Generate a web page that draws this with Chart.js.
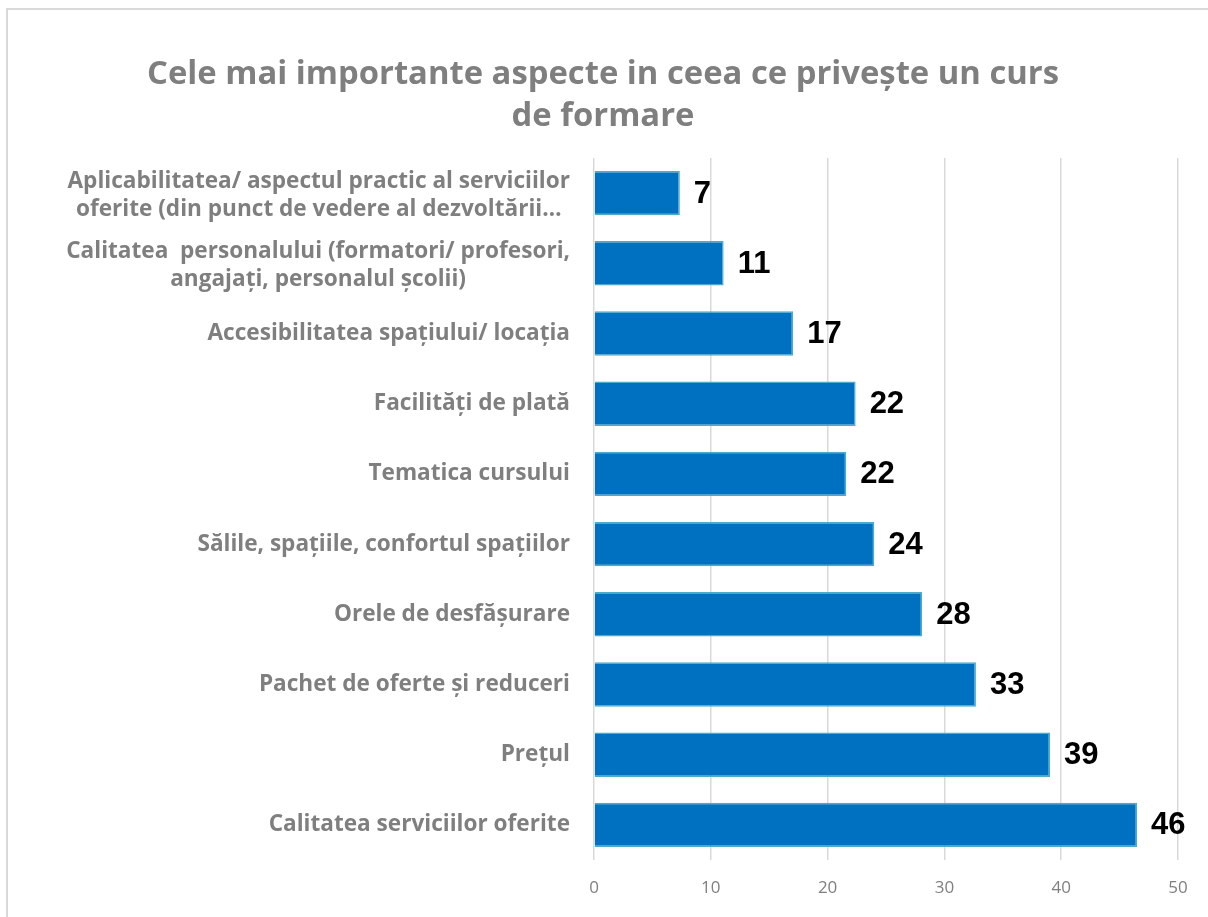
<!DOCTYPE html>
<html>
<head>
<meta charset="utf-8">
<script src="https://cdn.jsdelivr.net/npm/chart.js@4/dist/chart.umd.min.js"></script>
<style>
  html, body { margin: 0; padding: 0; background: #fff; overflow: hidden; font-family: "Open Sans"; }
  #frame { position: absolute; left: 6px; top: 8px; width: 1230px; height: 940px; border: 2px solid #d9d9d9; box-sizing: border-box; }
  #c { position: absolute; left: 0; top: 0; }
</style>
</head>
<body>
<div id="frame"></div>
<canvas id="c" width="1208" height="917"></canvas>
<script>
const titleLines = ['Cele mai importante aspecte in ceea ce privește un curs', 'de formare'];
const categories = [
  ['Aplicabilitatea/ aspectul practic al serviciilor', 'oferite (din punct de vedere al dezvoltării…'],
  ['Calitatea  personalului (formatori/ profesori,', 'angajați, personalul școlii)'],
  ['Accesibilitatea spațiului/ locația'],
  ['Facilități de plată'],
  ['Tematica cursului'],
  ['Sălile, spațiile, confortul spațiilor'],
  ['Orele de desfășurare'],
  ['Pachet de oferte și reduceri'],
  ['Prețul'],
  ['Calitatea serviciilor oferite']
];
const values = [7.35, 11.1, 17.05, 22.4, 21.6, 24.0, 28.1, 32.7, 39.05, 46.5];
const valueLabels = ['7', '11', '17', '22', '22', '24', '28', '33', '39', '46'];
const xTicks = [0, 10, 20, 30, 40, 50];

const GRAY = '#7f7f7f';

const categoryLabelPlugin = {
  id: 'categoryLabels',
  afterDraw(chart) {
    const ctx = chart.ctx;
    const yScale = chart.scales.y;
    const rightEdge = chart.chartArea.left - 24;
    const lh = 28;
    ctx.save();
    ctx.font = 'bold 22.6px "Open Sans"';
    ctx.fillStyle = GRAY;
    ctx.textBaseline = 'middle';
    ctx.textAlign = 'center';
    categories.forEach((lines, i) => {
      const yc = yScale.getPixelForValue(i) + (lines.length > 1 ? 2 : 0);
      let maxW = 0;
      lines.forEach(l => { maxW = Math.max(maxW, ctx.measureText(l).width); });
      const cx = rightEdge - maxW / 2;
      const y0 = yc - (lines.length - 1) * lh / 2;
      lines.forEach((l, j) => ctx.fillText(l, cx, y0 + j * lh));
    });
    ctx.restore();
  }
};

const valueLabelPlugin = {
  id: 'valueLabels',
  afterDatasetsDraw(chart) {
    const ctx = chart.ctx;
    const meta = chart.getDatasetMeta(0);
    ctx.save();
    ctx.font = 'bold 31px "Liberation Sans"';
    ctx.fillStyle = '#000';
    ctx.textAlign = 'left';
    ctx.textBaseline = 'middle';
    meta.data.forEach((bar, i) => {
      ctx.fillText(valueLabels[i], bar.x + 14, bar.y + 1);
    });
    ctx.restore();
  }
};

function draw() {
  new Chart(document.getElementById('c'), {
    type: 'bar',
    data: {
      labels: categories,
      datasets: [{
        data: values,
        backgroundColor: '#0070c0',
        borderColor: '#4aaccb',
        borderWidth: 1.5,
        barPercentage: 0.632,
        categoryPercentage: 1.0
      }]
    },
    options: {
      indexAxis: 'y',
      responsive: false,
      animation: false,
      devicePixelRatio: 1,
      layout: { padding: { left: 28, right: 30, top: 0, bottom: 0 } },
      plugins: {
        legend: { display: false },
        tooltip: { enabled: false },
        title: {
          display: true,
          text: titleLines,
          color: GRAY,
          font: { family: '"Open Sans"', size: 32.8, weight: 'bold', lineHeight: 42 / 32.8 },
          padding: { top: 54, bottom: 20 }
        }
      },
      scales: {
        x: {
          min: 0,
          max: 50,
          afterBuildTicks(scale) { scale.ticks = xTicks.map(v => ({ value: v })); },
          afterFit(scale) { scale.height = 57; },
          border: { display: false },
          grid: { color: '#d9d9d9', lineWidth: 1.5, drawTicks: false },
          ticks: { color: GRAY, padding: 18, font: { family: '"Open Sans"', size: 17 } }
        },
        y: {
          afterFit(scale) { scale.width = 566; },
          border: { display: false },
          grid: { display: false },
          ticks: { display: false }
        }
      }
    },
    plugins: [categoryLabelPlugin, valueLabelPlugin]
  });
}

Promise.all([
  document.fonts.load('bold 32px "Open Sans"'),
  document.fonts.load('16px "Open Sans"'),
  document.fonts.load('bold 31px "Liberation Sans"')
]).then(draw, draw);
</script>
</body>
</html>
